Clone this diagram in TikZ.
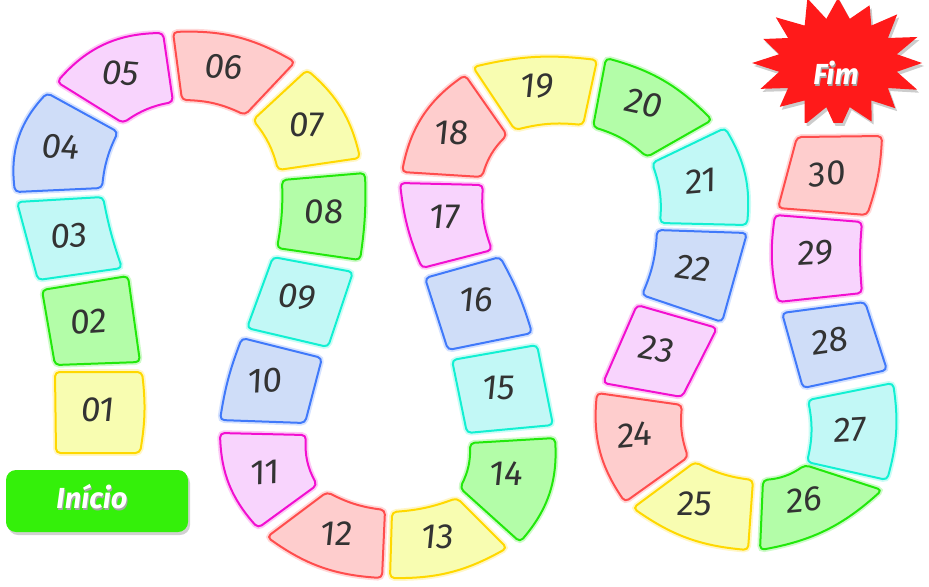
\documentclass[tikz,border=0pt]{standalone}
\usepackage{fontspec}
\newfontfamily\numfont{Fira Sans}[FakeSlant=0.1]
\newfontfamily\btnfont{Fira Sans}
\definecolor{yf}{HTML}{F8FDB1}\definecolor{yb}{HTML}{FFD800}
\definecolor{gf}{HTML}{B3FDA8}\definecolor{gb}{HTML}{22E80B}
\definecolor{cf}{HTML}{C2F8F6}\definecolor{cb}{HTML}{12F0D2}
\definecolor{bf}{HTML}{CFDDF8}\definecolor{bb}{HTML}{4079FA}
\definecolor{pf}{HTML}{F8D4FD}\definecolor{pb}{HTML}{F20FD0}
\definecolor{rf}{HTML}{FECDCD}\definecolor{rb}{HTML}{FF4D4D}
\definecolor{inigreen}{HTML}{34F00A}
\definecolor{fimred}{HTML}{FF1A1A}
\definecolor{numgray}{HTML}{333333}
\tikzset{
  tile/.style={line width=1pt, line join=round, rounded corners=2.2pt},
  ty/.style={tile, draw=yb, fill=yf, preaction={draw=yb, draw opacity=.22, line width=2.8pt}},
  tg/.style={tile, draw=gb, fill=gf, preaction={draw=gb, draw opacity=.22, line width=2.8pt}},
  tc/.style={tile, draw=cb, fill=cf, preaction={draw=cb, draw opacity=.22, line width=2.8pt}},
  tb/.style={tile, draw=bb, fill=bf, preaction={draw=bb, draw opacity=.22, line width=2.8pt}},
  tp/.style={tile, draw=pb, fill=pf, preaction={draw=pb, draw opacity=.22, line width=2.8pt}},
  tr/.style={tile, draw=rb, fill=rf, preaction={draw=rb, draw opacity=.22, line width=2.8pt}},
  num/.style={text=numgray, font=\numfont\fontsize{17.5}{17.5}\selectfont, inner sep=0pt},
  btntext/.style={text=white, font=\btnfont\bfseries\itshape\fontsize{14.5}{14.5}\selectfont, inner sep=0pt},
  btnshadow/.style={text=black!35, font=\btnfont\bfseries\itshape\fontsize{14.5}{14.5}\selectfont, inner sep=0pt},
}
\begin{document}
\begin{tikzpicture}[x=0.5pt, y=-0.5pt]
\useasboundingbox (0,0) rectangle (929,586);
% ---------- tiles ----------
\path[ty] (55,372) -- (142,372) to[bend left=8] (140,453) -- (56,453) -- cycle;
\path[tg] (42,290) -- (128,276) -- (140,362) -- (55,365) -- cycle;
\path[tc] (17,202) -- (103,197) to[bend right=4] (122,268) -- (38,280) -- cycle;
\path[tb] (15,192) to[bend left=25] (47,93) -- (118,132) to[bend right=10] (102,188) -- cycle;
\path[tp] (57,82) to[bend left=24] (163,33) -- (173,102) to[bend right=12] (123,123) -- cycle;
\path[tr] (173,32) to[bend left=16] (295,62) -- (245,115) to[bend right=12] (182,100) -- cycle;
\path[ty] (307,70) to[bend left=18] (360,158) -- (278,170) to[bend right=12] (253,120) -- cycle;
\path[tg] (277,248) to[bend right=6] (282,180) -- (365,173) to[bend left=5] (360,260) -- cycle;
\path[tc] (273,257) -- (353,272) -- (328,347) -- (247,328) -- cycle;
\path[tb] (220,420) to[bend left=6] (242,338) -- (322,358) -- (305,423) -- cycle;
\path[tp] (258,528) to[bend left=20] (220,433) -- (306,435) to[bend right=16] (317,485) -- cycle;
\path[tr] (382,578) to[bend left=16] (267,537) -- (327,492) to[bend right=10] (385,510) -- cycle;
\path[ty] (392,512) to[bend right=8] (457,498) -- (507,548) to[bend left=15] (390,578) -- cycle;
\path[tg] (460,488) to[bend right=14] (470,443) -- (555,438) to[bend left=22] (520,542) -- cycle;
\path[tc] (452,360) -- (537,345) -- (553,425) -- (467,433) -- cycle;
\path[tb] (425,278) -- (500,257) to[bend left=6] (532,333) -- (448,350) -- cycle;
\path[tp] (422,268) to[bend left=8] (400,183) -- (483,185) to[bend right=12] (492,250) -- cycle;
\path[tr] (402,172) to[bend left=22] (465,75) -- (507,135) to[bend right=14] (482,177) -- cycle;
\path[ty] (473,67) to[bend left=10] (597,60) -- (583,125) to[bend right=10] (515,130) -- cycle;
\path[tg] (606,58) to[bend left=15] (712,120) -- (647,157) to[bend right=12] (593,127) -- cycle;
\path[tc] (660,223) to[bend right=12] (652,163) -- (725,128) to[bend left=18] (747,225) -- cycle;
\path[tb] (642,295) to[bend right=10] (657,230) -- (747,233) -- (722,322) -- cycle;
\path[tp] (637,305) -- (717,328) -- (682,397) -- (603,383) -- cycle;
\path[tr] (625,502) to[bend left=20] (597,393) -- (682,405) to[bend right=12] (688,457) -- cycle;
\path[ty] (748,550) to[bend left=15] (633,508) -- (695,462) to[bend right=10] (753,480) -- cycle;
\path[tg] (763,480) to[bend right=15] (805,465) -- (882,490) to[bend left=16] (760,550) -- cycle;
\path[tc] (807,462) to[bend right=12] (808,400) -- (893,383) to[bend left=12] (887,480) -- cycle;
\path[tb] (782,313) -- (865,302) -- (887,370) -- (803,388) -- cycle;
\path[tp] (778,302) to[bend left=10] (775,215) -- (862,222) to[bend right=5] (862,293) -- cycle;
\path[tr] (797,137) -- (882,136) to[bend left=8] (867,215) -- (778,208) -- cycle;
% ---------- numbers ----------
\node[num] (n01) at (97,410) {01};
\node[num, rotate=4] (n02) at (88,322) {02};
\node[num, rotate=3] (n03) at (68,236) {03};
\node[num, rotate=-3] (n04) at (60,147) {04};
\node[num, rotate=-5] (n05) at (120,73) {05};
\node[num, rotate=-3] (n06) at (223,67) {06};
\node[num] (n07) at (306,125) {07};
\node[num] (n08) at (323,212) {08};
\node[num, rotate=-5] (n09) at (296,297) {09};
\node[num, rotate=3] (n10) at (264,381) {10};
\node[num, rotate=5] (n11) at (264,473) {11};
\node[num] (n12) at (336,534) {12};
\node[num] (n13) at (437,537) {13};
\node[num] (n14) at (505,474) {14};
\node[num] (n15) at (498,388) {15};
\node[num] (n16) at (475,300) {16};
\node[num] (n17) at (444,217) {17};
\node[num] (n18) at (451,133) {18};
\node[num] (n19) at (536,86) {19};
\node[num, rotate=-12] (n20) at (643,103) {20};
\node[num, rotate=5] (n21) at (700,181) {21};
\node[num, rotate=-8] (n22) at (692,268) {22};
\node[num, rotate=-10] (n23) at (656,349) {23};
\node[num, rotate=5] (n24) at (634,435) {24};
\node[num] (n25) at (694,504) {25};
\node[num, rotate=5] (n26) at (803,500) {26};
\node[num, rotate=3] (n27) at (849,430) {27};
\node[num, rotate=8] (n28) at (829,341) {28};
\node[num, rotate=3] (n29) at (815,253) {29};
\node[num, rotate=5] (n30) at (826,174) {30};
% ---------- Inicio button ----------
\fill[black, opacity=.18, rounded corners=5pt] (8,473) rectangle (190,535);
\fill[inigreen, rounded corners=5pt] (6,470) rectangle (188,532);
\node[btnshadow] (inishadow) at (93,499) {Início};
\node[btntext] (ini) at (92,497) {Início};
% ---------- Fim star ----------
\begin{scope}
  \clip (740,0) rectangle (929,125);
  \fill[black, opacity=.2] plot[samples at={0,...,31}]
    ({840+(mod(\x,2)==0 ? 84+4*sin(\x*77) : 60)*cos(\x*11.25)},
     {66+(mod(\x,2)==0 ? 66+4*sin(\x*53) : 45)*sin(\x*11.25)}) -- cycle;
\end{scope}
\begin{scope}
  \clip (740,0) rectangle (929,122);
  \fill[fimred] plot[samples at={0,...,31}]
    ({838+(mod(\x,2)==0 ? 84+4*sin(\x*77) : 60)*cos(\x*11.25)},
     {63+(mod(\x,2)==0 ? 66+4*sin(\x*53) : 45)*sin(\x*11.25)}) -- cycle;
\end{scope}
\node[btnshadow] (fimshadow) at (837,75) {Fim};
\node[btntext] (fim) at (836,73) {Fim};
\end{tikzpicture}
\end{document}
